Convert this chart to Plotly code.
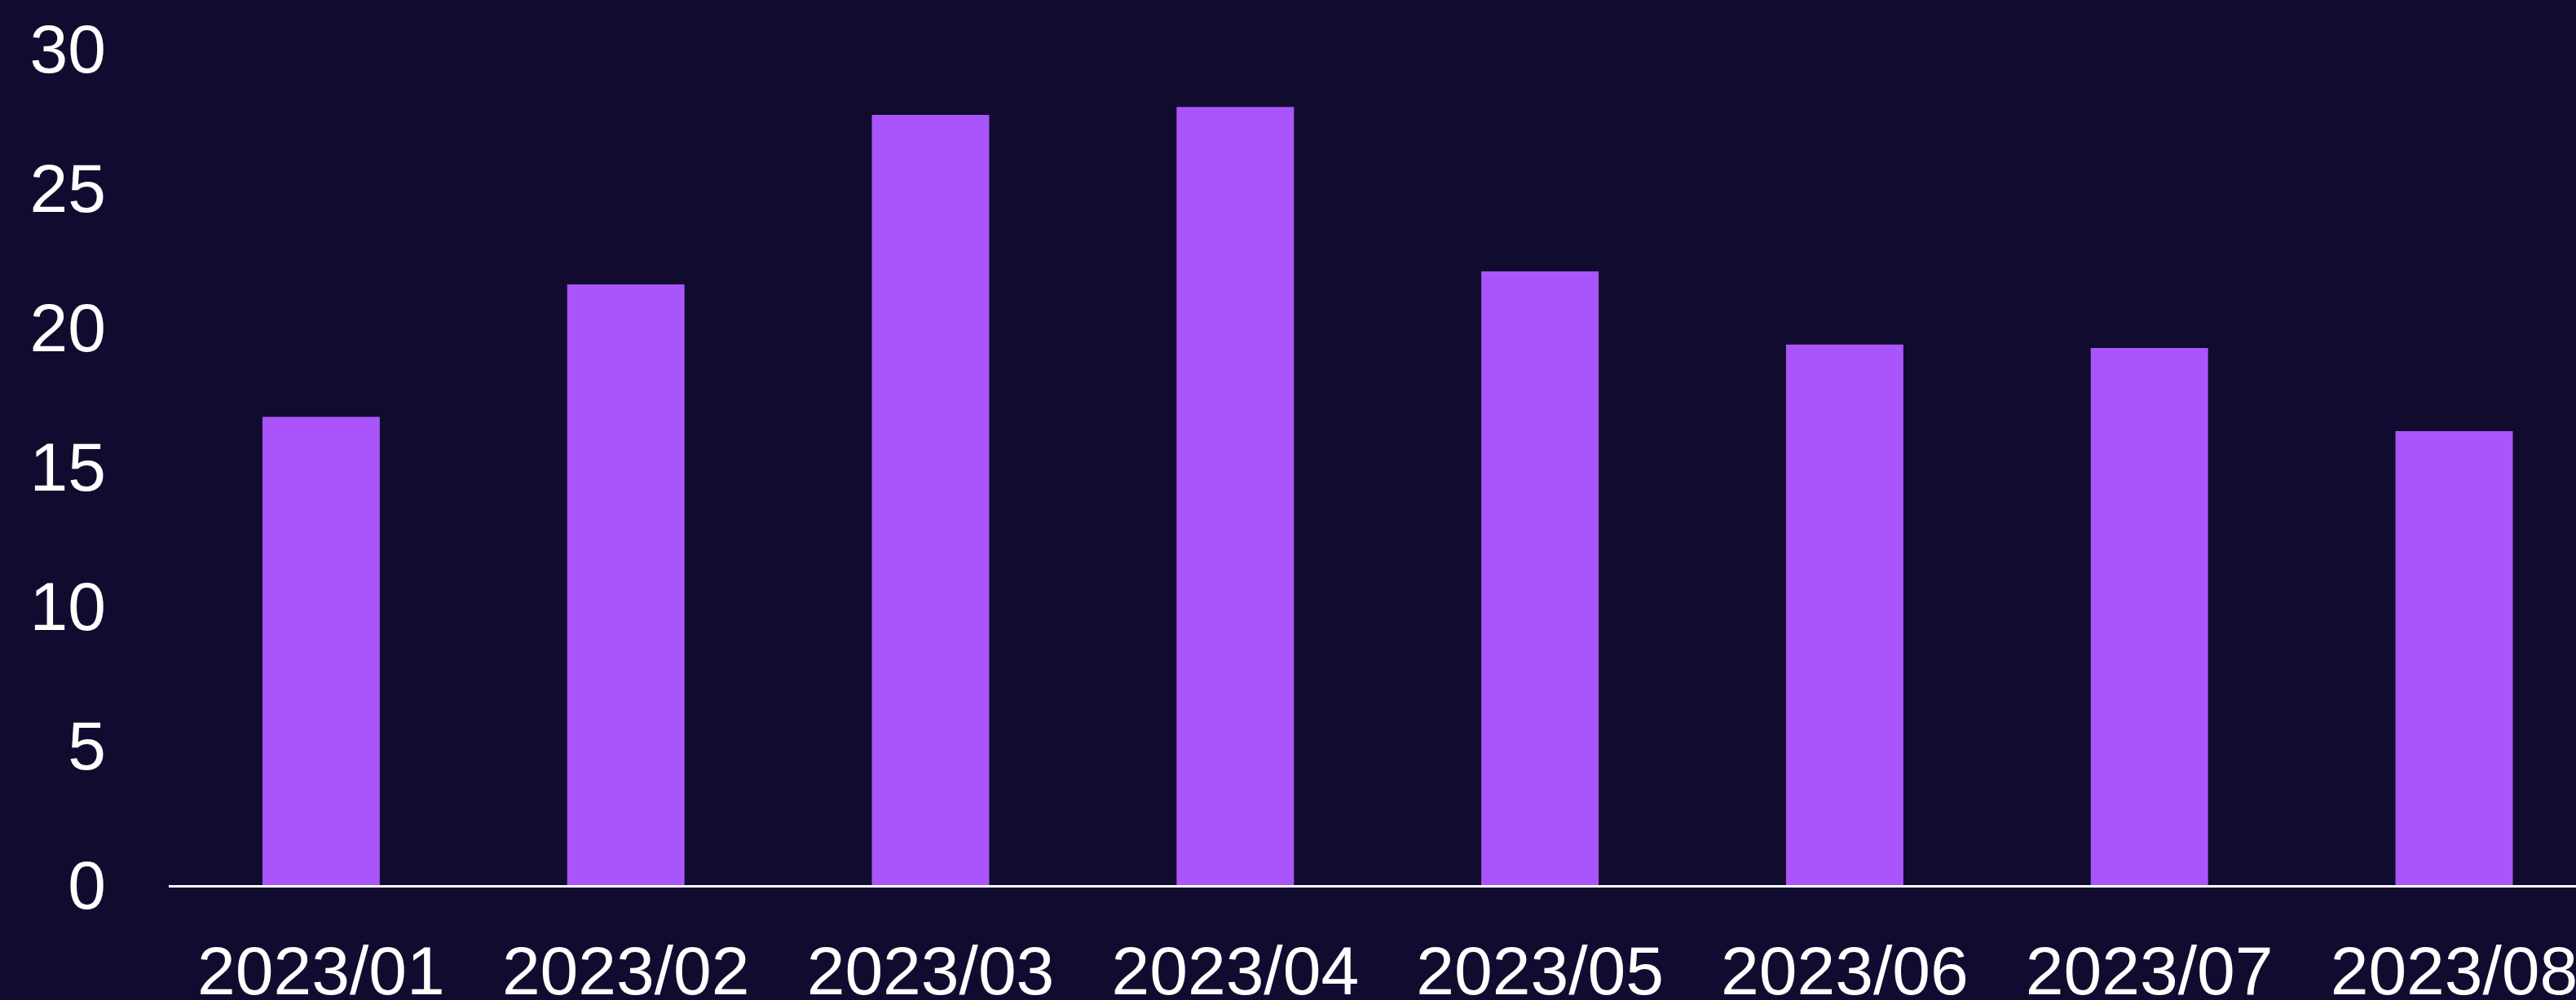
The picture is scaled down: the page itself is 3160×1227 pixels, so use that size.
import plotly.graph_objects as go

categories = ["2023/01", "2023/02", "2023/03", "2023/04", "2023/05", "2023/06", "2023/07", "2023/08"]
values = [16.8, 21.55, 27.63, 27.92, 22.02, 19.39, 19.27, 16.29]
y_ticks = [0, 5, 10, 15, 20, 25, 30]

BG = "#110C2F"
BAR = "#AA55FC"
FONT = "Liberation Sans, Arial, sans-serif"

fig = go.Figure(go.Bar(x=categories, y=values, marker=dict(color=BAR, line=dict(width=0))))

fig.update_layout(
    width=3160, height=1227,
    paper_bgcolor=BG, plot_bgcolor=BG,
    margin=dict(l=207, r=0, t=60, b=141, autoexpand=False),
    bargap=0.615,
    showlegend=False,
    font=dict(family=FONT, color="white", size=84),
)
fig.update_xaxes(
    type="category", range=[-0.5, 7.4], automargin=False,
    showgrid=False, zeroline=False,
    showline=True, linecolor="white", linewidth=3,
    ticks="", ticklabelstandoff=30,
    tickfont=dict(family=FONT, size=84, color="white"),
)
fig.update_yaxes(
    range=[0, 30], tickvals=y_ticks, automargin=False,
    showgrid=False, zeroline=False, showline=False,
    ticks="", ticklabelstandoff=76,
    tickfont=dict(family=FONT, size=84, color="white"),
)

fig.write_html(
    "out.html",
    config={"displayModeBar": False},
    post_script="document.body.style.margin='0';document.body.style.background='" + BG + "';document.body.style.overflow='hidden';",
)
